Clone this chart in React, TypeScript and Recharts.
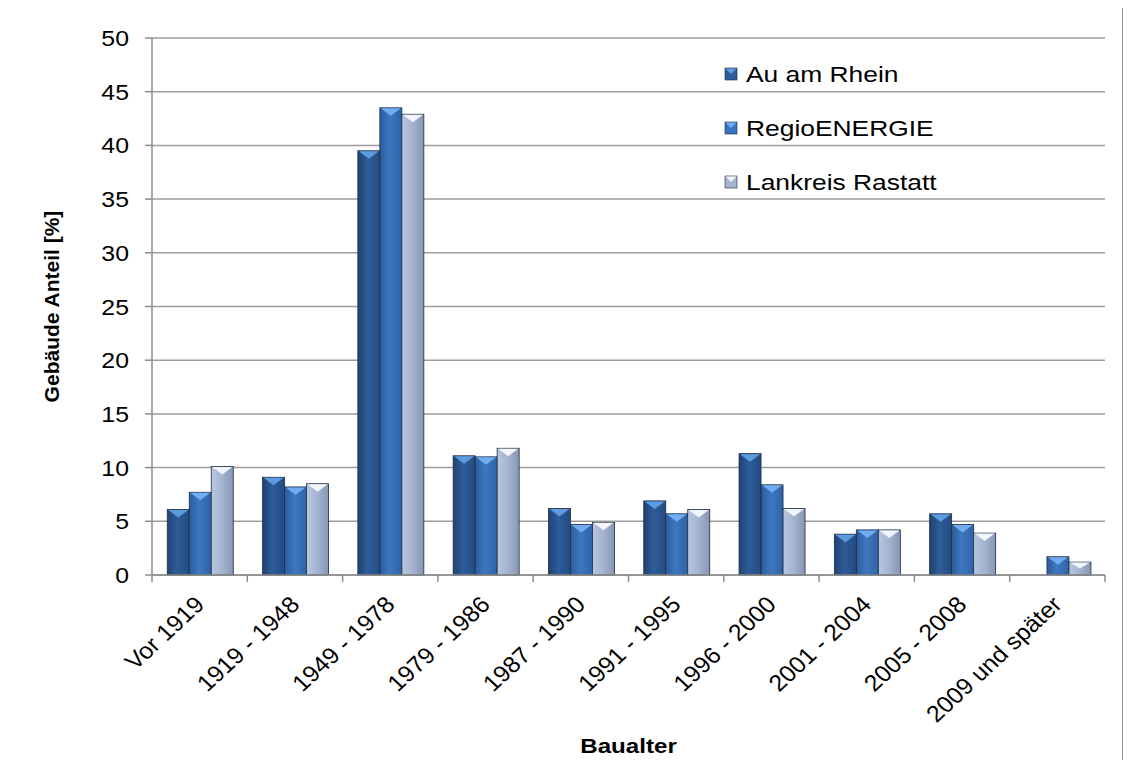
import React from "react"
import {
  BarChart,
  Bar,
  XAxis,
  YAxis,
  CartesianGrid,
} from "recharts"

const categories = [
  "Vor 1919",
  "1919 - 1948",
  "1949 - 1978",
  "1979 - 1986",
  "1987 - 1990",
  "1991 - 1995",
  "1996 - 2000",
  "2001 - 2004",
  "2005 - 2008",
  "2009 und später",
]
const auAmRhein = [6.1, 9.1, 39.5, 11.1, 6.2, 6.9, 11.3, 3.8, 5.7, null]
const regioEnergie = [7.7, 8.2, 43.5, 11.0, 4.7, 5.7, 8.4, 4.2, 4.7, 1.7]
const landkreisRastatt = [10.1, 8.5, 42.9, 11.8, 4.9, 6.1, 6.2, 4.2, 3.9, 1.2]
const yTicks = [0, 5, 10, 15, 20, 25, 30, 35, 40, 45, 50]

const data = categories.map((cat, i) => ({
  cat,
  au: auAmRhein[i],
  regio: regioEnergie[i],
  lank: landkreisRastatt[i],
}))

const FONT = "'Liberation Sans', Arial, sans-serif"

const series = [
  { key: "au", name: "Au am Rhein", grad: "gAu", top: "#5d9be0", swatch: "#2d5c98" },
  { key: "regio", name: "RegioENERGIE", grad: "gRegio", top: "#71acf0", swatch: "#3a74bd" },
  { key: "lank", name: "Lankreis Rastatt", grad: "gLank", top: "#f2f6fc", swatch: "#a3b3d0" },
]

function BevelBar(props: any) {
  const { x, y, width, height, grad, top } = props
  if (!height || height <= 0) return null
  const th = Math.min(8, height / 2)
  return (
    <g>
      <rect x={x} y={y} width={width} height={height} fill={`url(#${grad})`} stroke="#1d2c44" strokeWidth={0.8} />
      <polygon
        points={`${x + 1},${y + 0.5} ${x + width - 1},${y + 0.5} ${x + width / 2},${y + th}`}
        fill={top}
      />
    </g>
  )
}

function CatTick(props: any) {
  const { x, y, payload, index, visibleTicksCount } = props
  const half = payload.offset || 47.6
  const last = index === visibleTicksCount - 1
  const tx = x + 6
  const ty = y + 31
  return (
    <g>
      <line x1={x - half} y1={y} x2={x - half} y2={y + 7} stroke="#8c8c8c" strokeWidth={1.5} />
      {last && <line x1={x + half} y1={y} x2={x + half} y2={y + 7} stroke="#8c8c8c" strokeWidth={1.5} />}
      <text
        transform={`translate(${tx}, ${ty}) scale(1.08, 1) rotate(-45)`}
        textAnchor="end"
        fontSize={23}
        fontFamily={FONT}
        fill="#000"
      >
        {payload.value}
      </text>
    </g>
  )
}

function ValueTick(props: any) {
  const { x, y, payload } = props
  return (
    <text
      transform={`translate(${x}, ${y + 8}) scale(1.13, 1)`}
      textAnchor="end"
      fontSize={22}
      fontFamily={FONT}
      fill="#000"
    >
      {payload.value}
    </text>
  )
}

function LegendBox() {
  return (
    <svg
      width={260}
      height={170}
      style={{ position: "absolute", left: 715, top: 38 }}
    >
      {series.map((s, i) => {
        const cy = 28 + i * 54
        return (
          <g key={s.key}>
            <rect x={2} y={cy - 6} width={12} height={12} fill={s.swatch} stroke="#1d2c44" strokeWidth={0.6} />
            <polygon points={`${2.5},${cy - 5.5} ${13.5},${cy - 5.5} ${8},${cy}`} fill={s.top} />
            <text
              transform={`translate(23, ${cy + 8}) scale(1.2, 1)`}
              fontSize={22}
              fontFamily={FONT}
              fill="#000"
            >
              {s.name}
            </text>
          </g>
        )
      })}
    </svg>
  )
}

export default function App() {
  return (
    <div
      style={{
        position: "relative",
        width: 1116,
        height: 760,
        border: "1px solid #8c8c8c",
        margin: "-1px 0 0 -1px",
        background: "#fff",
        boxSizing: "border-box",
      }}
    >
      <BarChart
        width={1114}
        height={750}
        data={data}
        margin={{ top: 30, right: 17, left: 0, bottom: 0 }}
        barCategoryGap="16%"
        barGap={0}
      >
        <defs>
          <linearGradient id="gAu" x1="0" y1="0" x2="1" y2="0">
            <stop offset="0%" stopColor="#1f4273" />
            <stop offset="45%" stopColor="#2e5d99" />
            <stop offset="100%" stopColor="#234b80" />
          </linearGradient>
          <linearGradient id="gRegio" x1="0" y1="0" x2="1" y2="0">
            <stop offset="0%" stopColor="#2c5c9c" />
            <stop offset="45%" stopColor="#3d77c0" />
            <stop offset="100%" stopColor="#2f63a6" />
          </linearGradient>
          <linearGradient id="gLank" x1="0" y1="0" x2="1" y2="0">
            <stop offset="0%" stopColor="#b9c6de" />
            <stop offset="45%" stopColor="#a6b5d1" />
            <stop offset="100%" stopColor="#8797b4" />
          </linearGradient>
        </defs>
        <CartesianGrid vertical={false} stroke="#9c9c9c" strokeWidth={1.5} />
        <XAxis
          dataKey="cat"
          interval={0}
          stroke="#8c8c8c"
          strokeWidth={1.5}
          tickLine={false}
          tickSize={0}
          tickMargin={0}
          tick={<CatTick />}
          height={183}
          label={{
            content: (p: any) => {
              const vb = p.viewBox
              return (
                <text
                  transform={`translate(${vb.x + vb.width / 2}, 745) scale(1.15, 1)`}
                  textAnchor="middle"
                  fontSize={21}
                  fontWeight="bold"
                  fontFamily={FONT}
                  fill="#000"
                >
                  Baualter
                </text>
              )
            },
          }}
        />
        <YAxis
          domain={[0, 50]}
          ticks={yTicks}
          interval={0}
          width={144}
          tickSize={7}
          tickMargin={16}
          tick={<ValueTick />}
          stroke="#8c8c8c"
          strokeWidth={1.5}
          label={{
            content: (p: any) => {
              const vb = p.viewBox
              const cx = 43
              const cy = vb.y + vb.height / 2
              return (
                <text
                  transform={`translate(${cx}, ${cy}) rotate(-90)`}
                  textAnchor="middle"
                  dominantBaseline="central"
                  fontSize={21}
                  fontWeight="bold"
                  fontFamily={FONT}
                  fill="#000"
                >
                  Gebäude Anteil [%]
                </text>
              )
            },
          }}
        />
        {series.map((s) => (
          <Bar
            key={s.key}
            dataKey={s.key}
            name={s.name}
            fill={s.swatch}
            isAnimationActive={false}
            shape={(p: any) => <BevelBar {...p} grad={s.grad} top={s.top} />}
          />
        ))}
      </BarChart>
      <LegendBox />
    </div>
  )
}
